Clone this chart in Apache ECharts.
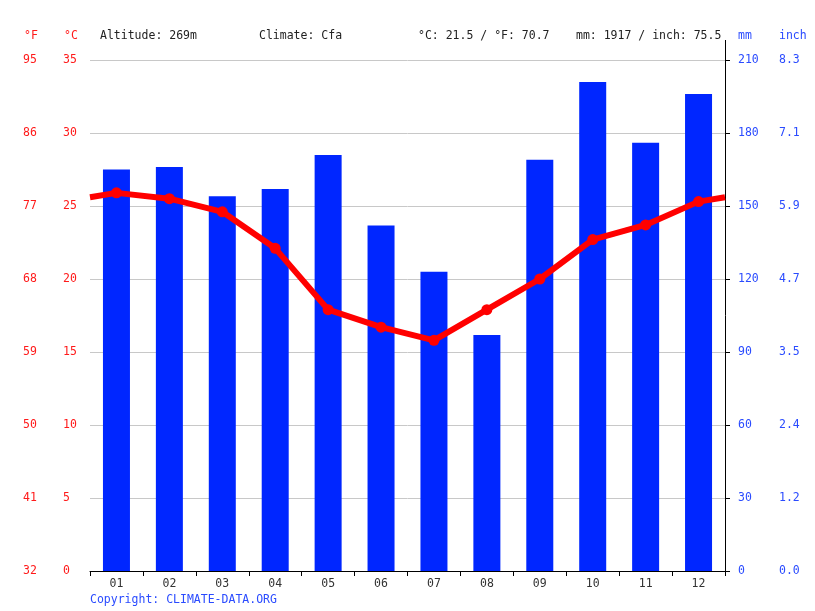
<!DOCTYPE html>
<html>
<head>
<meta charset="UTF-8">
<title>Climate chart</title>
<style>
  html, body { margin: 0; padding: 0; background: #fff; }
  #main { width: 815px; height: 611px; }
</style>
</head>
<body>
<div id="main"></div>
<script src="https://cdn.jsdelivr.net/npm/echarts/dist/echarts.min.js"></script>
<script type="text/javascript">
    // data
    var months = ['01', '02', '03', '04', '05', '06', '07', '08', '09', '10', '11', '12'];
    var precipMm = [165, 166, 154, 157, 171, 142, 123, 97, 169, 201, 176, 196];
    var tempC = [25.9, 25.5, 24.6, 22.1, 17.9, 16.7, 15.8, 17.9, 20.0, 22.7, 23.7, 25.3];

    // tick labels
    var celsiusTicks = ['0', '5', '10', '15', '20', '25', '30', '35'];
    var fahrenheitTicks = ['32', '41', '50', '59', '68', '77', '86', '95'];
    var mmTicks = ['0', '30', '60', '90', '120', '150', '180', '210'];
    var inchTicks = ['0.0', '1.2', '2.4', '3.5', '4.7', '5.9', '7.1', '8.3'];

    var infoAltitude = 'Altitude: 269m';
    var infoClimate = 'Climate: Cfa';
    var infoTemp = '°C: 21.5 / °F: 70.7';
    var infoPrecip = 'mm: 1917 / inch: 75.5';

    var FONT = 'DejaVu Sans Mono';
    var FS = 11.5;
    var RED = '#ff1a1a';
    var BLUE = '#2a4bff';

    var myChart = echarts.init(document.getElementById('main'));

    // line runs from edge to edge, wrapping december -> january
    var edge = (tempC[11] + tempC[0]) / 2;
    var lineData = [{ value: [0, edge], symbol: 'none' }];
    for (var i = 0; i < tempC.length; i++) {
        lineData.push([i + 0.5, tempC[i]]);
    }
    lineData.push({ value: [12, edge], symbol: 'none' });

    function tickFrom(arr, step, base) {
        return function (v) {
            var idx = Math.round((v - base) / step);
            return arr[idx] !== undefined ? arr[idx] : '';
        };
    }

    var headerText = function (x, text, color) {
        return {
            type: 'text', left: x, top: 30,
            style: { text: text, fill: color, font: FS + 'px "' + FONT + '"' }
        };
    };

    var option = {
        animation: false,
        textStyle: { fontFamily: FONT, fontSize: FS },
        grid: { left: 90, right: 90, top: 60, bottom: 40 },
        xAxis: [
            {
                type: 'category',
                data: months,
                axisLine: { lineStyle: { color: '#000', width: 1 } },
                axisTick: { show: true, length: 5, lineStyle: { color: '#000' } },
                axisLabel: { color: '#333', fontFamily: FONT, fontSize: FS, margin: 7 },
                splitLine: { show: false }
            },
            {
                type: 'value', min: 0, max: 12, show: false
            }
        ],
        yAxis: [
            {   // °C
                type: 'value', min: 0, max: 35, interval: 5, position: 'left',
                axisLine: { show: false }, axisTick: { show: false },
                axisLabel: { color: RED, fontFamily: FONT, fontSize: FS, align: 'left', margin: 27,
                    formatter: tickFrom(celsiusTicks, 5, 0) },
                splitLine: { show: true, lineStyle: { color: '#c8c8c8', width: 1 } }
            },
            {   // °F
                type: 'value', min: 32, max: 95, interval: 9, position: 'left',
                axisLine: { show: false }, axisTick: { show: false },
                axisLabel: { color: RED, fontFamily: FONT, fontSize: FS, align: 'left', margin: 67,
                    formatter: tickFrom(fahrenheitTicks, 9, 32) },
                splitLine: { show: false }
            },
            {   // mm
                type: 'value', min: 0, max: 210, interval: 30, position: 'right',
                axisLine: { show: true, onZero: false, lineStyle: { color: '#000', width: 1 } },
                axisTick: { show: true, length: 5, lineStyle: { color: '#000' } },
                axisLabel: { color: BLUE, fontFamily: FONT, fontSize: FS, align: 'left', margin: 13,
                    formatter: tickFrom(mmTicks, 30, 0) },
                splitLine: { show: false }
            },
            {   // inch
                type: 'value', min: 0, max: 210, interval: 30, position: 'right',
                axisLine: { show: false }, axisTick: { show: false },
                axisLabel: { color: BLUE, fontFamily: FONT, fontSize: FS, align: 'left', margin: 54,
                    formatter: tickFrom(inchTicks, 30, 0) },
                splitLine: { show: false }
            }
        ],
        series: [
            {
                name: 'mm',
                type: 'bar',
                xAxisIndex: 0,
                yAxisIndex: 2,
                data: precipMm,
                barWidth: 27,
                itemStyle: { color: '#0026ff' }
            },
            {
                name: '°C',
                type: 'line',
                xAxisIndex: 1,
                yAxisIndex: 0,
                data: lineData,
                symbol: 'circle',
                symbolSize: 11,
                lineStyle: { color: '#ff0000', width: 6 },
                itemStyle: { color: '#ff0000' },
                z: 5
            }
        ],
        graphic: [
            headerText(24, '°F', RED),
            headerText(64, '°C', RED),
            headerText(738, 'mm', BLUE),
            headerText(779, 'inch', BLUE),
            headerText(100, infoAltitude, '#222'),
            headerText(259, infoClimate, '#222'),
            headerText(418, infoTemp, '#222'),
            headerText(576, infoPrecip, '#222'),
            {   // right axis line runs up into the header
                type: 'line',
                shape: { x1: 725.5, y1: 40, x2: 725.5, y2: 60 },
                style: { stroke: '#000', lineWidth: 1 }
            },
            {
                type: 'text', left: 90, top: 594,
                style: { text: 'Copyright: CLIMATE-DATA.ORG', fill: BLUE, font: FS + 'px "' + FONT + '"' }
            }
        ]
    };

    myChart.setOption(option);
</script>
</body>
</html>
